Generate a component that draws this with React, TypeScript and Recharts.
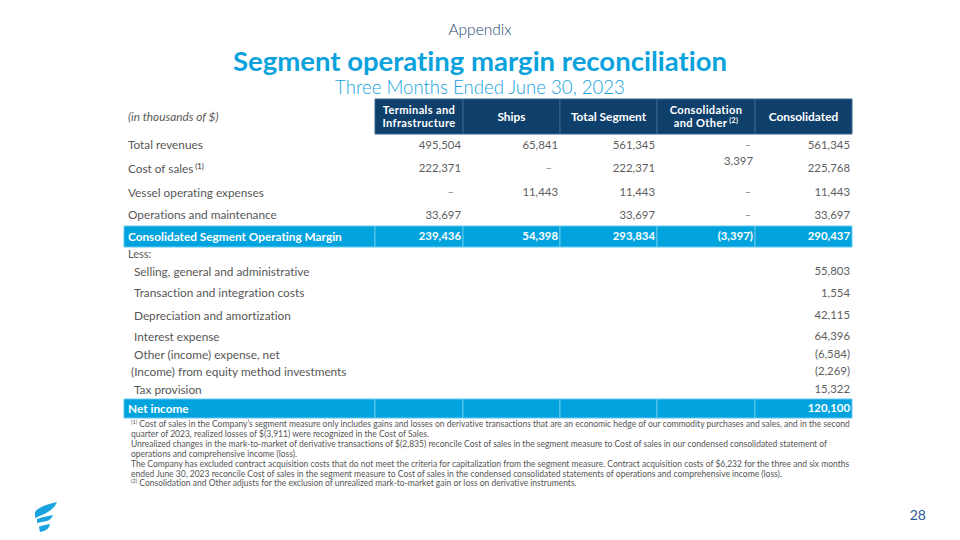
import React from "react";
import { ScatterChart, Scatter, XAxis, YAxis, ReferenceArea } from "recharts";

const ROW_LABELS = [
  "Total revenues",
  "Cost of sales",
  "Vessel operating expenses",
  "Operations and maintenance",
  "Consolidated Segment Operating Margin",
  "Less:",
  "Selling, general and administrative",
  "Transaction and integration costs",
  "Depreciation and amortization",
  "Interest expense",
  "Other (income) expense, net",
  "(Income) from equity method investments",
  "Tax provision",
  "Net income",
];
const ROW_NOTES = [null, "(1)", null, null, null, null, null, null, null, null, null, null, null, null];

const HEADERS = [["Terminals and", "Infrastructure"], ["Ships"], ["Total Segment"], ["Consolidation", "and Other"], ["Consolidated"]];
const HEADER_NOTES = [null, null, null, "(2)", null];

// null = empty cell, 0 = dash
const TERMINALS = [495504, 222371, 0, 33697, 239436, null, null, null, null, null, null, null, null, null];
const SHIPS = [65841, 0, 11443, null, 54398, null, null, null, null, null, null, null, null, null];
const TOTAL_SEGMENT = [561345, 222371, 11443, 33697, 293834, null, null, null, null, null, null, null, null, null];
const CONSOLIDATION_OTHER = [0, 3397, 0, 0, -3397, null, null, null, null, null, null, null, null, null];
const CONSOLIDATED = [561345, 225768, 11443, 33697, 290437, null, 55803, 1554, 42115, 64396, -6584, -2269, 15322, 120100];
const COLUMN_VALUES = [TERMINALS, SHIPS, TOTAL_SEGMENT, CONSOLIDATION_OTHER, CONSOLIDATED];

const HIGHLIGHT_ROWS = ["Consolidated Segment Operating Margin", "Net income"];

const FOOTNOTES = [
  ["(1)", " Cost of sales in the Company\u2019s segment measure only includes gains and losses on derivative transactions that are an economic hedge of our commodity purchases and sales, and in the second"],
  [null, "quarter of 2023, realized losses of $(3,911) were recognized in the Cost of Sales."],
  [null, "Unrealized changes in the mark-to-market of derivative transactions of $(2,835) reconcile Cost of sales in the segment measure to Cost of sales in our condensed consolidated statement of"],
  [null, "operations and comprehensive income (loss)."],
  [null, "The Company has excluded contract acquisition costs that do not meet the criteria for capitalization from the segment measure. Contract acquisition costs of $6,232 for the three and six months"],
  [null, "ended June 30, 2023 reconcile Cost of sales in the segment measure to Cost of sales in the condensed consolidated statements of operations and comprehensive income (loss)."],
  ["(2)", " Consolidation and Other adjusts for the exclusion of unrealized mark-to-market gain or loss on derivative instruments."],
];

// layout
const W = 960;
const H = 540;
const MARGIN = { top: 99, right: 108, bottom: 122, left: 124 };
const LABEL_W = 251;
const COL_W = [88, 97, 97, 98, 97];
const HEADER_H = 35;
const ROW_H = [22, 25, 23, 22, 21, 14, 21, 22, 23, 19, 17, 17, 19, 19];
const ROW_INDENT = [0, 0, 0, 0, 0, 0, 6, 6, 6, 6, 6, 3, 6, 0];
const DASH_PAD = [9, 8, 8, 4, 4];
const RAISED = { "1-3": -7 } as Record<string, number>;

const NAVY = "#0f3f6b";
const CYAN = "#00a3de";
const FONT = "Lato, 'Noto Sans', sans-serif";
const NOLIG = { fontVariantLigatures: "none" } as React.CSSProperties;

const PLOT_W = LABEL_W + COL_W.reduce((a, b) => a + b, 0);
const PLOT_H = HEADER_H + ROW_H.reduce((a, b) => a + b, 0);

const colLeft = COL_W.map((_, i) => LABEL_W + COL_W.slice(0, i).reduce((a, b) => a + b, 0));
const colRight = colLeft.map((l, i) => l + COL_W[i]);
const rowTop = ROW_H.map((_, i) => HEADER_H + ROW_H.slice(0, i).reduce((a, b) => a + b, 0));
const rowMid = rowTop.map((t, i) => t + ROW_H[i] / 2);

const isHl = (row: number) => HIGHLIGHT_ROWS.includes(ROW_LABELS[row]);

const fmt = (v: number) =>
  v === 0 ? "\u2013" : v < 0 ? `(${Math.abs(v).toLocaleString("en-US")})` : v.toLocaleString("en-US");

const headerData = HEADERS.map((_, c) => ({ x: (colLeft[c] + colRight[c]) / 2, y: HEADER_H / 2, col: c }));
const labelData = ROW_LABELS.map((_, r) => ({ x: 0, y: rowMid[r], row: r }));
const cellData = COLUMN_VALUES.map((vals, c) =>
  vals
    .map((v, r) => ({ x: colRight[c], y: rowMid[r], value: v, row: r, col: c }))
    .filter((d) => d.value !== null)
);

const HEADER_LINE = 13.4;

const HeaderCell = (props: any) => {
  const { cx, cy, payload } = props;
  const lines = HEADERS[payload.col];
  const note = HEADER_NOTES[payload.col];
  const start = cy - ((lines.length - 1) * HEADER_LINE) / 2;
  return (
    <g>
      {lines.map((ln, i) => (
        <text
          key={i}
          x={cx}
          y={start + i * HEADER_LINE}
          dy="0.35em"
          textAnchor="middle"
          fontFamily={FONT}
          fontSize={lines.length > 1 ? 11.1 : 11.9}
          letterSpacing={lines.length > 1 ? 0.35 : 0}
          fontWeight={700}
          fill="#ffffff"
          style={NOLIG}
        >
          {ln}
          {note && i === lines.length - 1 ? (
            <tspan fontSize={7} dy={-4}>{" " + note}</tspan>
          ) : null}
        </text>
      ))}
    </g>
  );
};

const LabelCell = (props: any) => {
  const { cx, cy, payload } = props;
  const r = payload.row;
  const hl = isHl(r);
  const note = ROW_NOTES[r];
  return (
    <text
      x={cx + 4 + ROW_INDENT[r]}
      y={cy}
      dy="0.35em"
      fontFamily={FONT}
      fontSize={r === 5 ? 11 : 11.8}
      fontWeight={hl ? 700 : 400}
      fill={hl ? "#ffffff" : "#575757"}
      style={NOLIG}
    >
      {ROW_LABELS[r]}
      {note ? (
        <tspan fontSize={7.5} fontWeight={700} dy={-4}>{" " + note}</tspan>
      ) : null}
    </text>
  );
};

const ValueCell = (props: any) => {
  const { cx, cy, payload } = props;
  const hl = isHl(payload.row);
  const pad = payload.value === 0 ? DASH_PAD[payload.col] : 2;
  const shift = RAISED[`${payload.row}-${payload.col}`] || 0;
  return (
    <text
      x={cx - pad}
      y={cy + shift}
      dy="0.35em"
      textAnchor="end"
      fontFamily={FONT}
      fontSize={11.4}
      fontWeight={hl ? 700 : 400}
      fill={hl ? "#ffffff" : payload.value === 0 ? "#8a8a8a" : "#5e5e5e"}
    >
      {fmt(payload.value)}
    </text>
  );
};

const Logo = () => (
  <svg width={30} height={36} viewBox="30 498 30 36" style={{ position: "absolute", left: 30, top: 498 }}>
    <path d="M35 518 L35 512 C38 507 48 504 57 502 C55 507 50 512 42 515 Z" fill="#1aa3dc" />
    <path d="M37 523 L37 519 C42 517 48 516 53 515 C52 518 50 520 47 521 Z" fill="#1aa3dc" />
    <path d="M39 527 C42 525 46 525 50 524 C49 528 47 530 44 531 L40 532 Z" fill="#1aa3dc" />
  </svg>
);

export default function App() {
  return (
    <div style={{ position: "absolute", left: 0, top: 0, width: W, height: H, background: "#fff", fontFamily: FONT, ...NOLIG }}>
      <div style={{ position: "absolute", top: 20, width: W, textAlign: "center", fontSize: 15.5, color: "#23466e", fontWeight: 300 }}>
        Appendix
      </div>
      <div style={{ position: "absolute", top: 44, width: W, textAlign: "center", fontSize: 27.5, lineHeight: "34px", color: "#0aa2dd", fontWeight: 700 }}>
        Segment operating margin reconciliation
      </div>
      <div style={{ position: "absolute", top: 75, width: W, textAlign: "center", fontSize: 18.6, lineHeight: "24px", color: "#15a3dd", fontWeight: 300 }}>
        Three Months Ended June 30, 2023
      </div>
      <div style={{ position: "absolute", left: 128, top: 109, fontSize: 11.8, fontStyle: "italic", color: "#5a5a5a" }}>
        (in thousands of $)
      </div>

      <ScatterChart width={W} height={H} margin={MARGIN}>
        <XAxis type="number" dataKey="x" domain={[0, PLOT_W]} hide />
        <YAxis type="number" dataKey="y" domain={[0, PLOT_H]} reversed hide />
        {HEADERS.map((_, c) => (
          <ReferenceArea key={`h${c}`} x1={colLeft[c]} x2={colRight[c]} y1={0} y2={HEADER_H} fill={NAVY} fillOpacity={1} stroke="#3b6690" strokeWidth={1} />
        ))}
        {ROW_LABELS.map((_, r) =>
          isHl(r)
            ? [0, ...colRight].map((_x, i) => (
                <ReferenceArea
                  key={`r${r}-${i}`}
                  x1={i === 0 ? 0 : colLeft[i - 1]}
                  x2={i === 0 ? LABEL_W : colRight[i - 1]}
                  y1={rowTop[r]}
                  y2={rowTop[r] + ROW_H[r]}
                  fill={CYAN}
                  fillOpacity={1}
                  stroke="#63c8ef"
                  strokeWidth={1}
                />
              ))
            : null
        )}
        <Scatter data={headerData} shape={HeaderCell} isAnimationActive={false} />
        <Scatter data={labelData} shape={LabelCell} isAnimationActive={false} />
        {cellData.map((d, c) => (
          <Scatter key={`c${c}`} data={d} shape={ValueCell} isAnimationActive={false} />
        ))}
      </ScatterChart>

      <div style={{ position: "absolute", left: 131, top: 420, fontSize: 8.5, lineHeight: "9.9px", color: "#555" }}>
        {FOOTNOTES.map(([note, txt], i) => (
          <div key={i} style={{ whiteSpace: "nowrap" }}>
            {note ? <sup style={{ fontSize: 5.5, verticalAlign: "3px", lineHeight: 0 }}>{note}</sup> : null}
            {txt}
          </div>
        ))}
      </div>

      <Logo />
      <div style={{ position: "absolute", right: 34, top: 506, fontSize: 14, color: "#2d5b8d" }}>28</div>
    </div>
  );
}
